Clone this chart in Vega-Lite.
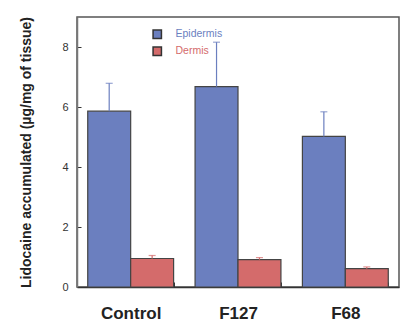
{
  "$schema": "https://vega.github.io/schema/vega-lite/v6.json",
  "width": 322,
  "height": 270,
  "autosize": "none",
  "padding": {"left": 77, "top": 17, "right": 5, "bottom": 36},
  "background": "white",
  "config": {
    "font": "Liberation Sans",
    "view": {"stroke": "#555555", "strokeWidth": 1.5},
    "legend": {
      "title": null,
      "orient": "none",
      "legendX": 75,
      "legendY": 12,
      "padding": 0,
      "symbolType": "square",
      "symbolSize": 70,
      "symbolStrokeWidth": 1.5,
      "symbolStrokeColor": "#333333",
      "symbolOpacity": 1,
      "labelFontSize": 10.5,
      "labelOffset": 13,
      "rowPadding": 2
    }
  },
  "data": {
    "values": [
      {"group": "Control", "series": "Epidermis", "value": 5.86, "err": 6.79},
      {"group": "Control", "series": "Dermis", "value": 0.95, "err": 1.05},
      {"group": "F127", "series": "Epidermis", "value": 6.68, "err": 8.16},
      {"group": "F127", "series": "Dermis", "value": 0.91, "err": 0.98},
      {"group": "F68", "series": "Epidermis", "value": 5.02, "err": 5.84},
      {"group": "F68", "series": "Dermis", "value": 0.61, "err": 0.67}
    ]
  },
  "encoding": {
    "x": {
      "field": "group",
      "type": "nominal",
      "sort": ["Control", "F127", "F68"],
      "scale": {"paddingInner": 0.2, "paddingOuter": 0.1},
      "axis": {
        "title": null,
        "labelAngle": 0,
        "labelFontSize": 17,
        "labelFontWeight": "bold",
        "labelColor": "#222222",
        "labelPadding": 23,
        "tickBand": "extent",
        "tickSize": -5,
        "tickColor": "#333333",
        "domainColor": "#333333",
        "domainWidth": 1.5
      }
    },
    "xOffset": {"field": "series", "type": "nominal", "sort": ["Epidermis", "Dermis"]}
  },
  "layer": [
    {
      "mark": {"type": "bar", "strokeWidth": 1.2, "stroke": "#444444"},
      "encoding": {
        "y": {
          "field": "value",
          "type": "quantitative",
          "scale": {"domain": [0, 9], "nice": false},
          "axis": {
            "values": [0, 2, 4, 6, 8],
            "grid": false,
            "title": "Lidocaine accumulated (µg/mg of tissue)",
            "titleFontSize": 14,
            "titleFontWeight": "bold",
            "titleColor": "#222222",
            "titlePadding": 28,
            "labelFontSize": 11,
            "labelColor": "#333333",
            "labelPadding": 13,
            "tickSize": -4,
            "tickColor": "#333333",
            "domainColor": "#777777",
            "domainWidth": 1.5
          }
        },
        "color": {
          "field": "series",
          "type": "nominal",
          "sort": ["Epidermis", "Dermis"],
          "scale": {"domain": ["Epidermis", "Dermis"], "range": ["#6b7fbf", "#d46b6b"]},
          "legend": {
            "labelColor": {"expr": "datum.value === 'Epidermis' ? '#6b7fbf' : '#d46b6b'"}
          }
        }
      }
    },
    {
      "mark": {"type": "rule", "strokeWidth": 1.2},
      "encoding": {
        "y": {"field": "value", "type": "quantitative"},
        "y2": {"field": "err"},
        "color": {"condition": {"test": "datum.series === 'Epidermis'", "value": "#6b7fbf"}, "value": "#d46b6b"}
      }
    },
    {
      "mark": {"type": "tick", "size": 7, "thickness": 1.2, "orient": "horizontal"},
      "encoding": {
        "y": {"field": "err", "type": "quantitative"},
        "color": {"condition": {"test": "datum.series === 'Epidermis'", "value": "#6b7fbf"}, "value": "#d46b6b"}
      }
    }
  ]
}
